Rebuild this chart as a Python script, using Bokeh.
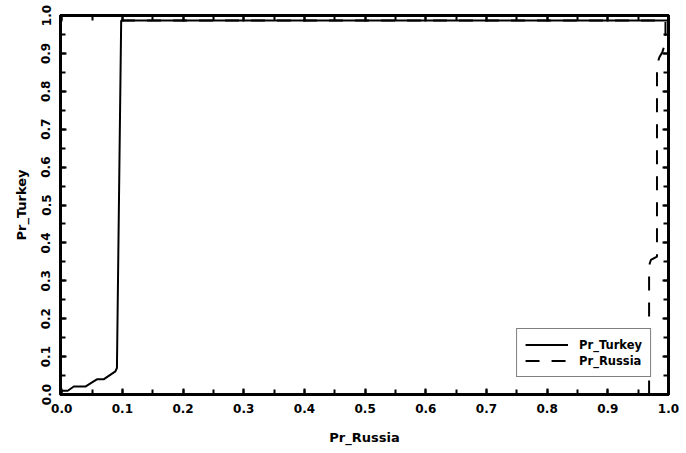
from bokeh.plotting import figure
from bokeh.models import (Range1d, LinearAxis, SingleIntervalTicker, NumeralTickFormatter,
                          CustomLabelingPolicy)
from bokeh.embed import file_html
from bokeh.resources import INLINE

# Pr_Turkey curve (solid)
turkey_x = [0.0, 0.01, 0.02, 0.039, 0.05, 0.058, 0.069, 0.0885, 0.091, 0.098, 1.0]
turkey_y = [0.01, 0.01, 0.021, 0.021, 0.032, 0.04, 0.04, 0.061, 0.07, 0.987, 0.987]

# Pr_Russia curve (dashed)
russia_x = [0.968, 0.968, 0.971, 0.981, 0.981, 0.985, 0.990, 0.995, 0.995, 0.10]
russia_y = [0.0, 0.34, 0.355, 0.364, 0.87, 0.89, 0.904, 0.93, 0.987, 0.987]

FONT = "DejaVu Sans"

p = figure(width=686, height=453, output_backend="svg", toolbar_location=None,
           x_range=Range1d(-0.002, 1.0), y_range=Range1d(0.0, 1.0),
           min_border_left=60, min_border_top=15, min_border_right=15, min_border_bottom=59,
           background_fill_color="white", border_fill_color="white")

p.xgrid.visible = False
p.ygrid.visible = False
p.outline_line_color = "black"
p.outline_line_width = 3

p.line(turkey_x, turkey_y, line_color="black", line_width=2, legend_label="Pr_Turkey")
p.line(russia_x, russia_y, line_color="black", line_width=2, line_dash="14 12",
       legend_label="Pr_Russia")

no_labels = CustomLabelingPolicy(code="""
    for (let i = 0; i < indices.size; i++) { indices.unset(i) }
    return indices
""")

def style_axis(ax, labels=True):
    ax.ticker = SingleIntervalTicker(interval=0.1, num_minor_ticks=2)
    ax.formatter = NumeralTickFormatter(format="0.0")
    ax.axis_line_width = 3
    ax.axis_line_color = "black"
    ax.major_tick_in = 6
    ax.major_tick_out = 0
    ax.minor_tick_in = 5
    ax.minor_tick_out = 0
    ax.major_tick_line_width = 2
    ax.minor_tick_line_width = 2
    ax.major_tick_line_color = "black"
    ax.minor_tick_line_color = "black"
    if labels:
        ax.major_label_text_font = FONT
        ax.major_label_text_font_style = "bold"
        ax.major_label_text_font_size = "12px"
        ax.major_label_text_color = "black"
        ax.axis_label_text_font = FONT
        ax.axis_label_text_font_style = "bold"
        ax.axis_label_text_font_size = "13px"
        ax.axis_label_text_color = "black"
    else:
        ax.major_label_policy = no_labels
        ax.major_label_standoff = 0

xa = p.xaxis[0]
style_axis(xa)
xa.axis_label = "Pr_Russia"
xa.major_label_standoff = 9
xa.axis_label_standoff = 14

ya = p.yaxis[0]
style_axis(ya)
ya.axis_label = "Pr_Turkey"
ya.major_label_orientation = "vertical"
ya.major_label_standoff = 10
ya.axis_label_standoff = 10

top = LinearAxis()
style_axis(top, labels=False)
p.add_layout(top, "above")
right = LinearAxis()
style_axis(right, labels=False)
p.add_layout(right, "right")

lg = p.legend[0]
lg.location = "bottom_right"
lg.margin = 17
lg.border_line_color = "black"
lg.border_line_width = 1.5
lg.background_fill_color = "white"
lg.background_fill_alpha = 1.0
lg.label_text_font = FONT
lg.label_text_font_style = "bold"
lg.label_text_font_size = "11.5px"
lg.label_text_color = "black"
lg.glyph_width = 43
lg.glyph_height = 15
lg.label_standoff = 11
lg.padding = 8
lg.spacing = 1

open("out.html", "w").write(file_html(p, INLINE))
